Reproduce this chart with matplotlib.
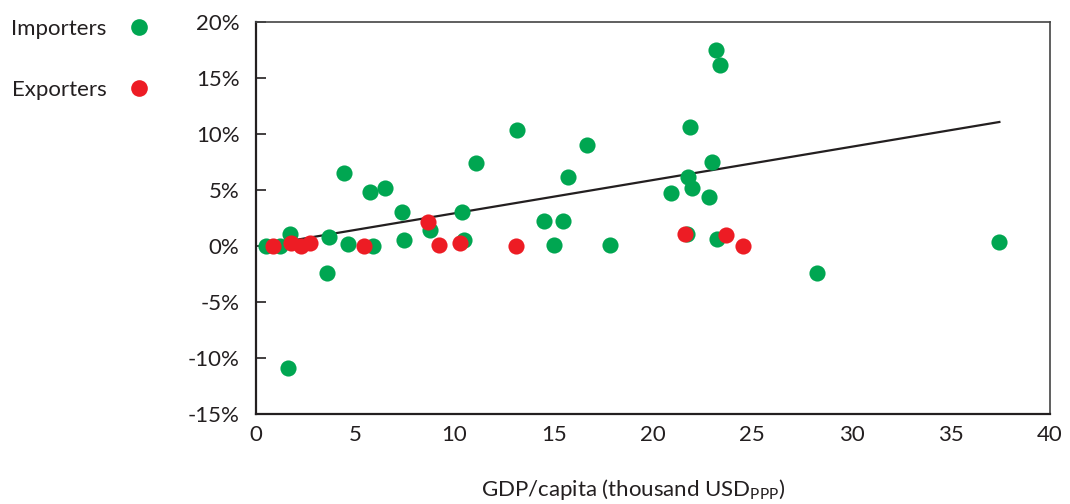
import numpy as np
import matplotlib
matplotlib.use("Agg")
import matplotlib.pyplot as plt
from matplotlib.lines import Line2D

plt.rcParams['font.family'] = ['Lato', 'DejaVu Sans']
plt.rcParams['mathtext.default'] = 'regular'

# importers: GDP per capita (thousand USD ppp) and change (%)
imp_gdp = [0.5, 1.2, 1.7, 1.6, 3.7, 3.6, 4.45, 4.65, 5.75, 5.9, 6.5, 7.35,
           7.45, 8.75, 10.4, 10.5, 11.1, 13.15, 14.5, 15.45, 15.0, 15.7,
           16.7, 17.85, 20.9, 21.7, 21.75, 21.85, 21.95, 22.8, 22.95, 23.2,
           23.15, 23.4, 28.25, 37.45]
imp_chg = [0.0, 0.0, 1.1, -10.9, 0.8, -2.4, 6.55, 0.2, 4.8, 0.0, 5.2, 3.0,
           0.5, 1.4, 3.0, 0.5, 7.45, 10.4, 2.2, 2.2, 0.1, 6.2,
           9.0, 0.1, 4.7, 1.1, 6.15, 10.6, 5.2, 4.4, 7.5, 0.6,
           17.5, 16.15, -2.45, 0.4]

# exporters
exp_gdp = [0.85, 1.75, 2.25, 2.7, 5.45, 8.65, 9.2, 10.3, 13.1, 21.6, 23.7, 24.55]
exp_chg = [0.0, 0.3, 0.0, 0.3, 0.0, 2.1, 0.1, 0.3, 0.0, 1.05, 0.95, 0.0]

# trend line
trend_slope = 0.297
trend_intercept = -0.05

yticks = [20, 15, 10, 5, 0, -5, -10, -15]
ytick_labels = ['20%', '15%', '10%', '5%', '0%', '-5%', '-10%', '-15%']
xticks = [0, 5, 10, 15, 20, 25, 30, 35, 40]

green = '#00a651'
red = '#ed1c24'
dark = '#231f20'
fs = 16

fig = plt.figure(figsize=(10.7, 5.04), dpi=100)
ax = fig.add_axes([256/1070, 1-414/504, (1050-256)/1070, (414-22)/504])

xs = np.array([min(imp_gdp), max(imp_gdp)])
ax.plot(xs, trend_intercept + trend_slope*xs, color=dark, lw=1.6, zorder=1)

ax.scatter(imp_gdp, imp_chg, s=135, color=green, lw=0, zorder=2)
ax.scatter(exp_gdp, exp_chg, s=135, color=red, lw=0, zorder=3)

ax.set_xlim(0, 40)
ax.set_ylim(-15, 20)
ax.set_xticks(xticks)
ax.set_yticks(yticks)
ax.set_yticklabels(ytick_labels)
ax.tick_params(axis='y', direction='in', length=7, width=1.2, pad=12,
               labelsize=fs, color=dark, labelcolor=dark)
ax.tick_params(axis='x', length=0, pad=8, labelsize=fs, labelcolor=dark)
for s in ['left', 'bottom']:
    ax.spines[s].set_linewidth(1.6)
    ax.spines[s].set_color(dark)
for s in ['top', 'right']:
    ax.spines[s].set_linewidth(1.2)
    ax.spines[s].set_color('#444444')

fig.text(633/1070, 1-490/504, r'GDP/capita (thousand USD$_{\mathregular{PPP}}$)',
         ha='center', va='center', fontsize=fs, color=dark)

handles = [Line2D([], [], ls='none', marker='o', ms=12, mew=0, color=green),
           Line2D([], [], ls='none', marker='o', ms=12, mew=0, color=red)]
ax.legend(handles, ['Importers', 'Exporters'], loc='upper left',
          bbox_to_anchor=(11/1070, 1-19/504), bbox_transform=fig.transFigure,
          frameon=False, markerfirst=False, fontsize=fs, labelspacing=1.85,
          handlelength=1.0, handletextpad=0.95, borderpad=0, borderaxespad=0,
          labelcolor=dark)

fig.savefig('out.png', dpi=100)
